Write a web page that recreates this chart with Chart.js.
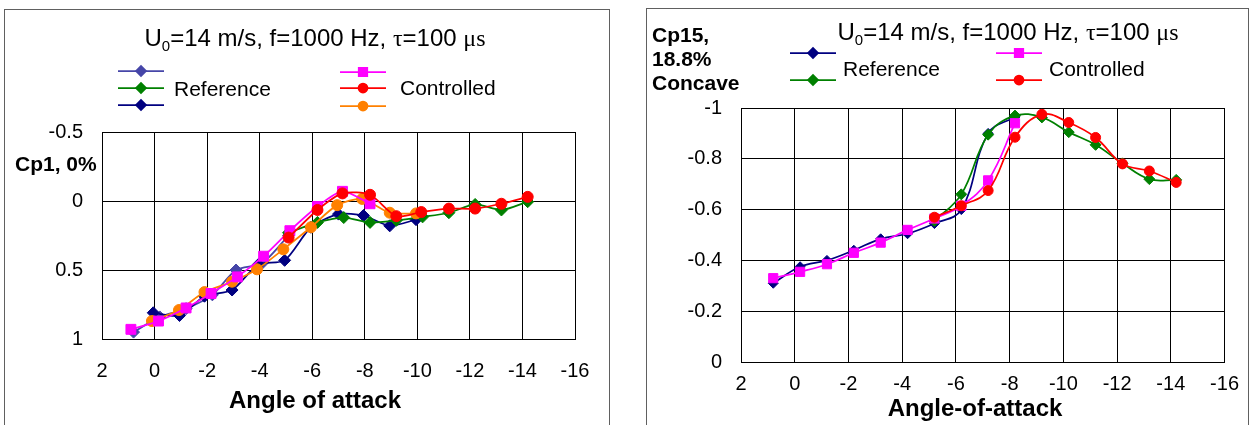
<!DOCTYPE html>
<html>
<head>
<meta charset="utf-8">
<script src="https://cdn.jsdelivr.net/npm/chart.js@4.4.1/dist/chart.umd.min.js"></script>
<style>
  body { margin: 0; width: 1249px; height: 425px; background: #fff; position: relative; overflow: hidden;
         font-family: "Liberation Sans", Arial, sans-serif; color: #000; }
  .panel { position: absolute; border: 1px solid #606060; background: #fff; }
  canvas { position: absolute; top: 0; }
  .t { position: absolute; white-space: nowrap; font-size: 21px; line-height: 1; }
  .c { transform: translate(-50%, -50%); }
  .l { transform: translateY(-50%); }
  .b { font-weight: bold; }
  .ttl { font-size: 24px; }
  .s { font-family: "Liberation Serif", "Times New Roman", serif; }
  .sub { font-size: 15px; position: relative; top: 5px; }
</style>
</head>
<body>
<div class="panel" style="left:4px;top:9px;width:604px;height:440px"></div>
<div class="panel" style="left:646px;top:8px;width:601px;height:440px"></div>

<canvas id="cp1" width="625" height="425" style="left:0"></canvas>
<canvas id="cp15" width="619" height="425" style="left:630px"></canvas>

<div class="t ttl c" style="left:315px;top:38px">U<span class="sub">0</span>=14 m/s, f=1000 Hz, <span class="s">τ</span>=100 <span class="s">μs</span></div>
<div class="t l" style="left:174px;top:88px">Reference</div>
<div class="t l" style="left:400px;top:87px">Controlled</div>
<div class="t b l" style="left:15px;top:163px">Cp1, 0%</div>
<div class="t b c" style="left:315px;top:400px;font-size:24px">Angle of attack</div>

<div class="t ttl c" style="left:1008px;top:32px">U<span class="sub">0</span>=14 m/s, f=1000 Hz, <span class="s">τ</span>=100 <span class="s">μs</span></div>
<div class="t l" style="left:843px;top:68px">Reference</div>
<div class="t l" style="left:1049px;top:68px">Controlled</div>
<div class="t b" style="left:652px;top:23px;line-height:24px">Cp15,<br>18.8%<br>Concave</div>
<div class="t b c" style="left:975px;top:408px;font-size:24px">Angle-of-attack</div>

<script>
// ---- Cp1 (0% chord) ----
const cp1RefA_x  = [0.8, -0.2, -1.2, -2.2, -3.1, -4.1, -5.1];
const cp1RefA_y  = [0.95, 0.84, 0.78, 0.68, 0.50, 0.45, 0.25];
const cp1RefB_x  = [-5.1, -6.2, -7.2, -8.2, -9.2, -10.2, -11.2, -12.2, -13.2, -14.2];
const cp1RefB_y  = [0.23, 0.155, 0.12, 0.155, 0.14, 0.115, 0.085, 0.025, 0.065, 0.005];
const cp1RefC_x  = [0.05, -0.95, -1.9, -2.95, -3.95, -4.95, -5.95, -7.0, -7.95, -8.95, -9.95];
const cp1RefC_y  = [0.81, 0.83, 0.69, 0.645, 0.46, 0.43, 0.19, 0.095, 0.105, 0.18, 0.135];
const cp1CtlA_x  = [0.9, -0.15, -1.2, -2.15, -3.15, -4.15, -5.15, -6.2, -7.15, -8.2];
const cp1CtlA_y  = [0.93, 0.87, 0.775, 0.67, 0.55, 0.40, 0.215, 0.04, -0.07, 0.02];
const cp1CtlB_x  = [-5.1, -6.2, -7.15, -8.2, -9.2, -10.15, -11.2, -12.2, -13.2, -14.2];
const cp1CtlB_y  = [0.265, 0.065, -0.055, -0.045, 0.11, 0.08, 0.055, 0.055, 0.02, -0.03];
const cp1CtlC_x  = [0.1, -0.93, -1.9, -2.95, -3.9, -4.9, -5.95, -6.95, -7.9, -8.95, -9.95];
const cp1CtlC_y  = [0.87, 0.79, 0.66, 0.585, 0.495, 0.35, 0.19, 0.03, -0.015, 0.085, 0.09];
const cp1Ticks   = [-0.5, 0, 0.5, 1];

// ---- Cp15 (18.8%, concave side) ----
const cp15RefA_x = [0.8, -0.2, -1.2, -2.2, -3.2, -4.2, -5.2, -6.2, -7.2, -8.2];
const cp15RefA_y = [-0.31, -0.375, -0.40, -0.44, -0.485, -0.505, -0.545, -0.60, -0.90, -0.965];
const cp15RefB_x = [-5.2, -6.2, -7.2, -8.2, -9.2, -10.2, -11.2, -12.2, -13.2, -14.2];
const cp15RefB_y = [-0.555, -0.66, -0.895, -0.97, -0.963, -0.905, -0.855, -0.782, -0.72, -0.717];
const cp15CtlA_x = [0.8, -0.2, -1.2, -2.2, -3.2, -4.2, -5.2, -6.2, -7.2, -8.2];
const cp15CtlA_y = [-0.33, -0.355, -0.385, -0.43, -0.47, -0.52, -0.565, -0.615, -0.715, -0.94];
const cp15CtlB_x = [-5.2, -6.2, -7.2, -8.2, -9.2, -10.2, -11.2, -12.2, -13.2, -14.2];
const cp15CtlB_y = [-0.57, -0.615, -0.675, -0.885, -0.975, -0.943, -0.884, -0.78, -0.752, -0.707];
const cp15Ticks  = [-1, -0.8, -0.6, -0.4, -0.2, 0];

const angleTicks = [2, 0, -2, -4, -6, -8, -10, -12, -14, -16];

const FONT = '"Liberation Sans", Arial, sans-serif';

function serie(xs, ys, color, style, r, order, tension) {
  return {
    data: xs.map((x, i) => ({ x: x, y: ys[i] })),
    borderColor: color, backgroundColor: color,
    pointStyle: style, pointRadius: r, pointHoverRadius: r, pointBorderWidth: 1,
    borderWidth: 1.75, tension: tension, order: order
  };
}

// legend samples: short line + marker, drawn with the dataset's own style
const legendSamples = {
  id: 'legendSamples',
  afterDraw(chart, args, opts) {
    const ctx = chart.ctx;
    opts.rows.forEach(row => {
      const d = chart.data.datasets[row.i];
      ctx.save();
      ctx.strokeStyle = d.borderColor;
      ctx.lineWidth = 1.75;
      ctx.beginPath();
      ctx.moveTo(row.x - 23, row.y);
      ctx.lineTo(row.x + 23, row.y);
      ctx.stroke();
      ctx.fillStyle = d.backgroundColor;
      Chart.helpers.drawPoint(ctx, { pointStyle: d.pointStyle, radius: row.r, borderWidth: 1 }, row.x, row.y);
      ctx.restore();
    });
  }
};

function makeChart(id, datasets, yMin, yMax, yTicks, pad, xAxisH, xPad, rows) {
  return new Chart(document.getElementById(id), {
    type: 'line',
    data: { datasets: datasets },
    options: {
      responsive: false,
      animation: false,
      layout: { padding: pad },
      plugins: { legend: { display: false }, tooltip: { enabled: false }, legendSamples: { rows: rows } },
      scales: {
        x: {
          type: 'linear', reverse: true, min: -16, max: 2,
          afterBuildTicks: s => { s.ticks = angleTicks.map(v => ({ value: v })); },
          afterFit: s => { s.height = xAxisH; },
          ticks: { callback: v => String(v), color: '#000', font: { family: FONT, size: 20 },
                   padding: xPad, maxRotation: 0, autoSkip: false },
          grid: { color: '#000', lineWidth: 1, drawTicks: false },
          border: { color: '#000', width: 1 }
        },
        y: {
          type: 'linear', reverse: true, min: yMin, max: yMax,
          afterBuildTicks: s => { s.ticks = yTicks.map(v => ({ value: v })); },
          afterFit: s => { s.width = 80; },
          ticks: { callback: v => String(v), color: '#000', font: { family: FONT, size: 20 }, padding: 19 },
          grid: { color: '#000', lineWidth: 1, drawTicks: false },
          border: { color: '#000', width: 1 }
        }
      }
    },
    plugins: [legendSamples]
  });
}

makeChart('cp1', [
  serie(cp1RefA_x, cp1RefA_y, '#4646A8', 'rectRot', 6, 6, 0.25),
  serie(cp1RefB_x, cp1RefB_y, '#008000', 'rectRot', 6, 4, 0.25),
  serie(cp1RefC_x, cp1RefC_y, '#000080', 'rectRot', 6, 5, 0.25),
  serie(cp1CtlA_x, cp1CtlA_y, '#FF00FF', 'rect', 7, 2, 0.25),
  serie(cp1CtlB_x, cp1CtlB_y, '#FF0000', 'circle', 5.5, 1, 0.25),
  serie(cp1CtlC_x, cp1CtlC_y, '#FF8000', 'circle', 5.5, 3, 0.25)
], -0.5, 1, cp1Ticks, { left: 22, right: 50, top: 132, bottom: 36 }, 50, 20, [
  { i: 0, x: 141, y: 71, r: 5 }, { i: 1, x: 141, y: 88, r: 5 }, { i: 2, x: 141, y: 105, r: 5 },
  { i: 3, x: 363, y: 72, r: 6 }, { i: 4, x: 363, y: 88, r: 4.5 }, { i: 5, x: 363, y: 106, r: 4.5 }
]);

makeChart('cp15', [
  serie(cp15RefA_x, cp15RefA_y, '#000080', 'rectRot', 5, 4, 0.4),
  serie(cp15RefB_x, cp15RefB_y, '#008000', 'rectRot', 5.5, 3, 0.4),
  serie(cp15CtlA_x, cp15CtlA_y, '#FF00FF', 'rect', 6.5, 2, 0.4),
  serie(cp15CtlB_x, cp15CtlB_y, '#FF0000', 'circle', 5, 1, 0.4)
], -1, 0, cp15Ticks, { left: 31, right: 21, top: 108, bottom: 23 }, 40, 10, [
  { i: 0, x: 183, y: 53, r: 5 }, { i: 1, x: 183, y: 80, r: 5 },
  { i: 2, x: 389, y: 53, r: 6 }, { i: 3, x: 389, y: 80, r: 4.5 }
]);
</script>
</body>
</html>
